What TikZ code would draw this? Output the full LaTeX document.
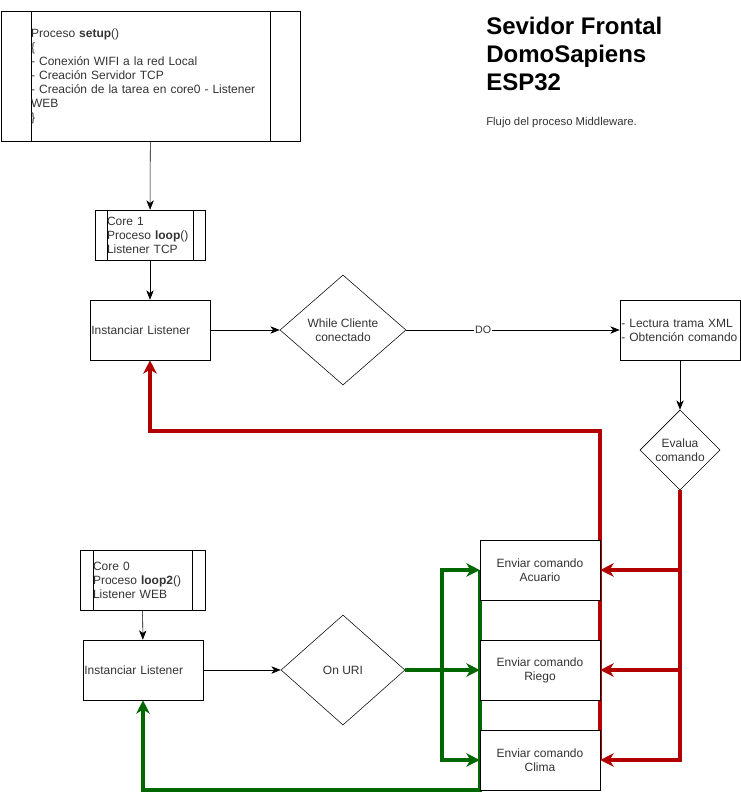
\documentclass[tikz,border=0pt]{standalone}
\usepackage{fontspec}
\setmainfont{Liberation Sans}
\usepackage{tikz}
\usetikzlibrary{positioning, arrows.meta, shapes.geometric, backgrounds}
\definecolor{loopred}{HTML}{B20000}
\definecolor{loopgreen}{HTML}{006600}
\hyphenpenalty=10000

\begin{document}
\begin{tikzpicture}[x=0.75pt,y=-0.75pt,
	every node/.style={font=\fontsize{9}{10.5}\selectfont, text=black!80},
	box/.style={rectangle, draw, minimum width=90pt, minimum height=45pt, inner sep=0pt, align=center},
	lbox/.style={box, align=left, text width=88pt, inner xsep=1pt},
	proc/.style={rectangle, draw, align=left, inner xsep=#1, inner ysep=0pt,
		path picture={\draw ([xshift=#1]path picture bounding box.north west) -- ([xshift=#1]path picture bounding box.south west)
			([xshift=-#1]path picture bounding box.north east) -- ([xshift=-#1]path picture bounding box.south east);}},
	cond/.style={diamond, draw, inner sep=0pt, align=center},
	arr/.style={-{Stealth[length=7pt,width=5.5pt,inset=2pt]}},
	redarr/.style={draw=loopred, line width=3pt, -{Stealth[length=10pt,width=10pt,inset=3pt]}},
	greenarr/.style={draw=loopgreen, line width=3pt, -{Stealth[length=10pt,width=10pt,inset=3pt]}}]
\useasboundingbox (0,0) rectangle (741,800);

% core 1
\node(setup)[proc=22.5pt, text width=179pt, minimum height=97.5pt] at (150.5,76) {Proceso \textbf{setup}()\\\{\\- Conexión WIFI a la red Local\\- Creación Servidor TCP\\- Creación de la tarea en core0 - Listener\\WEB\\\}};
\node(core1)[proc=9pt, text width=64.5pt, minimum height=37.5pt] at (150,235) {Core 1\\Proceso \textbf{loop}()\\Listener TCP};
\node(inst1)[lbox] at (150,330) {Instanciar Listener};
\node(while)[cond, minimum width=94.5pt, minimum height=82.5pt] at (343,330) {While Cliente\\conectado};
\node(lectura)[lbox] at (680,330) {- Lectura trama XML\\- Obtención comando};
\node(evalua)[cond, minimum width=60pt, minimum height=60pt] at (680,450) {Evalua\\comando};

% core 0
\node(core0)[proc=9.75pt, text width=74.25pt, minimum height=45pt] at (142.5,580) {Core 0\\Proceso \textbf{loop2}()\\Listener WEB};
\node(inst2)[lbox] at (143,670) {Instanciar Listener};
\node(onuri)[cond, minimum width=93pt, minimum height=82.5pt] at (343,670) {On URI};

\node(acuario)[box, fill=white] at (540,570) {Enviar comando\\Acuario};
\node(riego)[box, fill=white] at (540,670) {Enviar comando\\Riego};
\node(clima)[box, fill=white] at (540,760) {Enviar comando\\Clima};

% title
\node(title)[anchor=north west, align=left, font=\fontsize{18}{21}\selectfont\bfseries, text=black, inner sep=0pt] at (486,17) {Sevidor Frontal\\DomoSapiens\\ESP32};
\node(sub)[anchor=west, inner sep=0pt, font=\fontsize{8.5}{10}\selectfont] at (486,123) {Flujo del proceso Middleware.};

\coordinate(redtop) at (600,431);
\coordinate(gsplit) at (442,670);
\coordinate(gbot) at (480,790);

\draw[arr] (setup) -- (core1);
\draw[arr] (core1) -- (inst1);
\draw[arr] (inst1) -- (while);
\draw[arr] (while) -- node[pos=0.36, fill=white, inner sep=1pt, font=\fontsize{8}{9}\selectfont]{DO} (lectura);
\draw[arr] (lectura) -- (evalua);
\draw[arr] (core0) -- (inst2);
\draw[arr] (inst2) -- (onuri);

\begin{scope}[on background layer]
\draw[redarr] (clima.east) -- (clima.east |- redtop) -| (inst1.south);
\draw[greenarr] (acuario.west) -- (acuario.west |- gbot) -| (inst2.south);
\end{scope}

\draw[redarr] (evalua.south) |- (acuario.east);
\draw[redarr] (evalua.south) |- (riego.east);
\draw[redarr] (evalua.south) |- (clima.east);
\draw[draw=loopgreen, line width=3pt] (onuri.east) -- (gsplit);
\draw[greenarr] (gsplit) |- (acuario.west);
\draw[greenarr] (gsplit) -- (riego.west);
\draw[greenarr] (gsplit) |- (clima.west);
\end{tikzpicture}
\end{document}
